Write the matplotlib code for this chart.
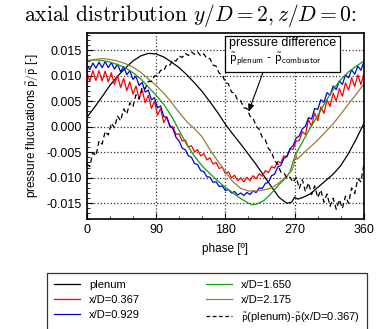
import numpy as np
import matplotlib
matplotlib.use("Agg")
import matplotlib.pyplot as plt
from matplotlib.ticker import MultipleLocator, FormatStrFormatter
from matplotlib.lines import Line2D

# values, in units of 1e-3
phase_plenum = [0, 10, 20, 30, 40, 50, 60, 70, 80, 90, 100, 110, 120, 130, 140, 150, 160, 170,
                180, 190, 200, 210, 220, 230, 240, 250, 260, 266, 270, 274, 280, 290, 300, 310,
                320, 330, 340, 350, 360]
plenum = [1.8, 3.8, 5.9, 8.1, 9.9, 11.5, 12.9, 13.9, 14.4, 14.3, 13.7, 12.7, 11.6, 10.2, 8.6, 6.9,
          4.9, 2.8, 0.5, -1.5, -3.4, -5.4, -7.4, -9.6, -11.8, -13.9, -15.0, -14.8, -13.8, -14.2,
          -13.9, -13.2, -11.9, -10.6, -9.3, -7.6, -5.2, -2.4, 0.7]

phase_green = [0, 10, 20, 30, 40, 50, 60, 70, 80, 90, 100, 110, 120, 130, 140, 150, 160, 170, 180,
               190, 200, 210, 215, 220, 230, 240, 250, 260, 264, 268, 272, 280, 290, 300, 310, 320,
               330, 340, 350, 360]
xd_1650 = [13.0, 13.1, 13.0, 12.7, 12.2, 11.6, 10.6, 9.4, 7.8, 6.2, 4.4, 2.1, -0.7, -3.5, -5.8,
           -7.7, -9.2, -10.6, -11.9, -13.0, -14.1, -15.0, -15.3, -15.2, -14.5, -13.0, -11.3, -9.8,
           -8.8, -6.8, -5.2, -3.0, -0.3, 2.2, 4.9, 7.3, 9.3, 10.8, 11.9, 12.9]

phase_brown = [0, 10, 20, 30, 40, 50, 60, 70, 80, 90, 100, 110, 120, 130, 140, 150, 160, 170, 180,
               190, 200, 210, 220, 230, 240, 250, 260, 266, 269, 271, 273, 280, 290, 300, 310, 320,
               330, 340, 350, 360]
xd_2175 = [12.9, 13.2, 13.4, 13.2, 12.9, 12.4, 11.7, 10.7, 9.4, 8.1, 6.6, 4.8, 2.8, 1.0, -0.4,
           -2.0, -4.5, -6.7, -8.8, -10.8, -12.1, -12.6, -12.6, -12.4, -12.0, -11.0, -9.6, -8.6,
           -7.6, -5.2, -6.4, -5.4, -4.0, -2.6, -1.0, 0.6, 2.5, 4.5, 6.4, 8.4]

# finer sampling for the jagged curves (0..360 every 4 deg)
phase_fine = list(range(0, 361, 4))
xd_0367 = [10.8, 8.9, 11.0, 9.1, 11.0, 9.0, 10.9, 8.8, 10.6, 8.3, 10.0, 7.7, 9.5, 7.1, 8.8, 6.4,
           8.0, 5.6, 7.2, 4.7, 6.2, 3.6, 5.0, 2.3, 3.6, 0.8, 2.0, -0.1, 0.0, -1.5, -1.4, -2.8,
           -2.6, -4.0, -3.7, -4.9, -4.5, -5.7, -5.3, -6.5, -6.1, -7.3, -7.0, -8.2, -7.9, -9.2,
           -8.8, -10.0, -9.5, -10.6, -10.0, -10.8, -9.9, -10.6, -9.6, -10.2, -9.2, -9.7, -8.6,
           -9.0, -7.8, -8.1, -6.8, -7.1, -5.7, -5.9, -4.4, -4.4, -2.8, -2.7, -1.0, -1.5, 1.4,
           0.1, 2.7, 1.2, 3.9, 2.6, 5.3, 4.0, 6.6, 5.0, 7.5, 6.0, 8.6, 7.2, 9.6, 7.9, 10.2, 8.3,
           10.4]
xd_0929 = [12.2, 11.2, 12.5, 11.5, 12.7, 11.6, 12.8, 11.6, 12.6, 11.3, 12.3, 10.8, 11.8, 10.2,
           11.0, 9.3, 9.9, 8.1, 8.7, 6.8, 7.2, 5.3, 5.7, 3.7, 4.1, 2.0, 1.8, 0.3, -0.4, -2.1,
           -2.8, -4.2, -4.5, -5.7, -6.0, -7.2, -7.4, -8.6, -8.8, -9.8, -9.9, -10.9, -10.8, -11.7,
           -11.6, -12.5, -12.3, -13.0, -12.7, -13.4, -13.0, -13.5, -12.9, -13.3, -12.6, -12.9,
           -12.0, -12.1, -11.1, -10.9, -9.6, -9.3, -7.9, -7.6, -6.2, -5.8, -4.3, -3.7, -2.2,
           -1.8, -0.4, 0.1, 1.8, 1.5, 3.6, 3.4, 5.3, 4.8, 6.7, 6.2, 8.0, 7.3, 9.0, 8.3, 10.2,
           9.6, 11.2, 10.3, 11.9, 11.1, 12.7]
diff_plenum_0367 = [-7.3, -7.8, -5.1, -5.7, -2.8, -3.4, -0.9, -1.6, 0.7, -0.2, 2.1, 1.2, 3.5,
                    2.5, 4.7, 3.9, 6.3, 5.4, 7.8, 7.5, 8.9, 8.9, 10.0, 10.0, 11.1, 11.0, 12.2,
                    12.1, 13.1, 12.9, 13.9, 13.6, 14.4, 14.0, 14.7, 14.2, 14.7, 13.9, 14.3, 13.4,
                    13.4, 12.1, 11.9, 10.5, 10.2, 8.7, 8.4, 6.8, 6.6, 5.2, 5.1, 3.7, 3.6, 2.1,
                    1.7, 0.1, -0.5, -2.1, -2.6, -4.3, -4.9, -6.7, -7.3, -8.9, -9.0, -10.1, -9.9,
                    -10.9, -9.9, -12.1, -10.4, -12.7, -11.0, -13.3, -11.6, -13.9, -12.4, -14.8,
                    -13.2, -15.6, -14.0, -16.2, -14.3, -16.0, -13.6, -15.0, -12.0, -13.1, -10.2,
                    -10.8, -7.3]

labels = ["plenum", "x/D=0.367", "x/D=0.929", "x/D=1.650", "x/D=2.175",
          r"$\mathsf{\tilde{p}}$(plenum)-$\mathsf{\tilde{p}}$(x/D=0.367)"]
colors = ["black", "#ff0000", "#0000dd", "#10a010", "#a0783c", "black"]

plt.rcParams["font.family"] = ["Liberation Sans", "DejaVu Sans"]
plt.rcParams["mathtext.fontset"] = "cm"
plt.rcParams["axes.unicode_minus"] = False
plt.rcParams["font.size"] = 8.5

fig = plt.figure(figsize=(3.76, 3.29), dpi=100)
ax = fig.add_axes([0.2306, 0.3343, 0.7374, 0.5654])

s = 1e-3
lw = 0.9
ax.plot(phase_plenum, np.array(plenum) * s, color=colors[0], lw=lw, label=labels[0])
ax.plot(phase_fine, np.array(xd_0367) * s, color=colors[1], lw=lw, label=labels[1])
ax.plot(phase_fine, np.array(xd_0929) * s, color=colors[2], lw=lw, label=labels[2])
ax.plot(phase_green, np.array(xd_1650) * s, color=colors[3], lw=lw, label=labels[3])
ax.plot(phase_brown, np.array(xd_2175) * s, color=colors[4], lw=lw, label=labels[4])
ax.plot(phase_fine, np.array(diff_plenum_0367) * s, color=colors[5], lw=lw, ls=(0, (4, 2.5)),
        label=labels[5])

ax.set_xlim(0, 360)
ax.set_ylim(-0.0181, 0.0184)
ax.xaxis.set_major_locator(MultipleLocator(90))
ax.xaxis.set_minor_locator(MultipleLocator(30))
ax.yaxis.set_major_locator(MultipleLocator(0.005))
ax.yaxis.set_minor_locator(MultipleLocator(0.001))
ax.yaxis.set_major_formatter(FormatStrFormatter("%.3f"))
ax.tick_params(which="both", direction="in", top=False, right=False, labelsize=9)
ax.tick_params(which="major", length=4, width=0.8)
ax.tick_params(which="minor", length=2.5, width=0.6)
ax.grid(True, which="major", ls=":", color="#333333", lw=0.9)
for sp in ax.spines.values():
    sp.set_linewidth(1.2)

ax.set_xlabel("phase [º]", fontsize=8.5, labelpad=5)
ax.set_ylabel(r"pressure fluctuations $\mathsf{\tilde{p}/\bar{p}}$ [-]", fontsize=8.5, labelpad=4)

fig.text(0.507, 0.953, r"axial distribution $y/D = 2, z/D = 0$:", ha="center", va="center",
         fontsize=15.5, family="cmr10")

ax.annotate("pressure difference\n" + r"$\mathsf{\tilde{p}_{plenum}}$ - $\mathsf{\tilde{p}_{combustor}}$",
            xy=(210, 0.0029), xytext=(185, 0.0177), ha="left", va="top", fontsize=9,
            bbox=dict(boxstyle="square,pad=0.3", fc="white", ec="black", lw=0.9),
            arrowprops=dict(arrowstyle="-|>,head_length=0.5,head_width=0.2", color="black",
                            lw=0.8, relpos=(0.33, 0.0), shrinkA=0, shrinkB=0))

handles = [Line2D([], [], color=c, lw=lw) for c in colors[:5]]
handles.append(Line2D([], [], color="black", lw=lw, ls=(0, (3, 2))))
leg = fig.legend(handles, labels, loc="upper left", ncol=2,
                 bbox_to_anchor=(47 / 376, 1 - 273 / 329),
                 borderaxespad=0, fancybox=False, edgecolor="black", fontsize=8,
                 handlelength=2.4, labelspacing=0.45, borderpad=0.6, columnspacing=5.9)
leg.get_frame().set_linewidth(0.9)

fig.savefig("out.png", dpi=100)
